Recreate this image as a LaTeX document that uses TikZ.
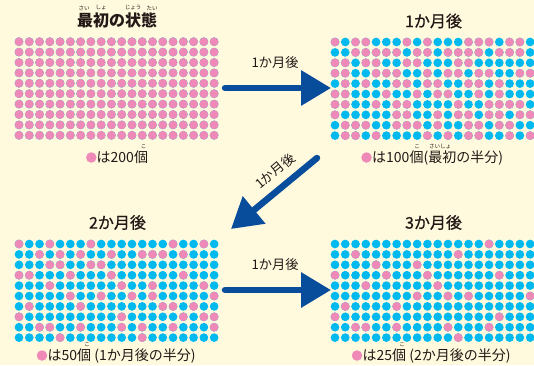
\documentclass[tikz,border=0pt]{standalone}
\usepackage{fontspec}
\setmainfont{Noto Sans CJK JP}
\newfontfamily\medfont[FakeBold=0.8]{Noto Sans CJK JP}
\usetikzlibrary{arrows.meta}
\definecolor{bgc}{RGB}{255,249,222}
\definecolor{pinkc}{RGB}{239,138,184}
\definecolor{bluec}{RGB}{0,185,238}
\definecolor{arrc}{RGB}{8,76,156}
\definecolor{txtc}{RGB}{35,24,21}
\newcommand\dotgrid[3]{%
  \foreach \r in {1,...,10}{\foreach \c in {1,...,20}{%
    \fill[bluec] ({#1+(\c-1)*10.27},{#2+(\r-1)*10.4}) circle[radius=4.35];}}
  \foreach \r/\cols in {#3}{\foreach \c in \cols {%
    \fill[pinkc] ({#1+(\c-1)*10.27},{#2+(\r-1)*10.4}) circle[radius=4.35];}}%
}
\begin{document}
\begin{tikzpicture}[x=1pt,y=-1pt,
  titletxt/.style={text=txtc,font=\medfont\fontsize{16}{16}\selectfont,inner sep=0pt},
  rubytxt/.style={text=txtc,font=\fontsize{5.5}{5.5}\selectfont,inner sep=0pt},
  captxt/.style={text=txtc,font=\fontsize{14}{14}\selectfont,inner sep=0pt,anchor=west},
  capdot/.style={circle,fill=pinkc,minimum size=10.5pt,inner sep=0pt},
  labtxt/.style={text=txtc,font=\fontsize{13.2}{13.2}\selectfont,inner sep=0pt},
  bigarrow/.style={draw=arrc,line width=6.5pt,line cap=round,-{Triangle[length=30pt,width=34pt]}}]
\fill[bgc] (0,0) rectangle (534,365);
\useasboundingbox (0,0) rectangle (534,365);
% grids
\dotgrid{19}{41.7}{1/{1,...,20},2/{1,...,20},3/{1,...,20},4/{1,...,20},5/{1,...,20},6/{1,...,20},7/{1,...,20},8/{1,...,20},9/{1,...,20},10/{1,...,20}}
\dotgrid{335}{42}{1/{1,3,4,8,10,14,15,16,18,19},2/{3,4,5,6,7,9,10,12,13,14,15,17,18,19},3/{1,2,4,5,8,9,13,14},4/{1,2,5,6,7,10,12,13,15,16,19,20},5/{2,4,7,8,10,11,14,15,17},6/{1,2,6,9,11,12,15,17},7/{1,2,5,7,8,13,16,17,18,19},8/{1,7,8,11,13,14,16,17,19,20},9/{2,3,4,7,8,9,11,14,15,17,18},10/{2,3,5,10,12,14,15,18,20}}
\dotgrid{19}{244}{1/{1,4,8,16,19},2/{3,5,7,10,13,14,15,17},3/{4,5,8,9},4/{1,2,6,10,17},5/{4,11,14,19},6/{6,9,12,14,20},7/{2,7,15,16,18},8/{1,11,17,19,20},9/{3,4,7,11,13,16,20},10/{5,13}}
\dotgrid{335}{244}{1/{16},2/{3,13},3/{5,9},4/{1,6,10,17},5/{4,11},6/{9,12,14,20},7/{2,7},8/{1,17},9/{3,4,7,12,16},10/{13}}
% titles
\node[titletxt,font=\fontsize{16}{16}\selectfont\bfseries] (t0) at (117,20.5) {最初の状態};
\node[rubytxt] (r1) at (84,8) {さい};
\node[rubytxt] (r2) at (101,8) {しょ};
\node[rubytxt] (r3) at (133,8) {じょう};
\node[rubytxt] (r4) at (152,8) {たい};
\node[titletxt] (t1) at (433.5,21) {1か月後};
\node[titletxt] (t2) at (117.5,222.5) {2か月後};
\node[titletxt] (t3) at (433.5,222.5) {3か月後};
% captions
\node[capdot] (d0) at (91.3,157.5) {};
\node[captxt] (c0) at (96.5,157.5) {は200個};
\node[rubytxt] (k0) at (143.5,146.5) {こ};
\node[capdot] (d1) at (366.5,157.5) {};
\node[captxt] (c1) at (372,157.5) {は100個(最初の半分)};
\node[rubytxt] (k1) at (417,146.5) {こ};
\node[rubytxt] (s1) at (440,146.5) {さいしょ};
\node[capdot] (d2) at (42,355.5) {};
\node[captxt] (c2) at (47.5,355.5) {は50個 (1か月後の半分)};
\node[rubytxt] (k2) at (87,345) {こ};
\node[capdot] (d3) at (357,355.5) {};
\node[captxt] (c3) at (362.5,355.5) {は25個 (2か月後の半分)};
\node[rubytxt] (k3) at (402,345) {こ};
% arrows
\coordinate (a1s) at (225,88);
\coordinate (a1e) at (331,88);
\coordinate (a2s) at (317,158);
\coordinate (a2e) at (231,229);
\coordinate (a3s) at (225,290);
\coordinate (a3e) at (331,290);
\draw[bigarrow] (a1s) -- (a1e);
\draw[bigarrow] (a2s) -- (a2e);
\draw[bigarrow] (a3s) -- (a3e);
\node[labtxt] (l1) at (275,62) {1か月後};
\node[labtxt,rotate=40] (l2) at (275,171) {1か月後};
\node[labtxt] (l3) at (275,264) {1か月後};
\end{tikzpicture}
\end{document}
